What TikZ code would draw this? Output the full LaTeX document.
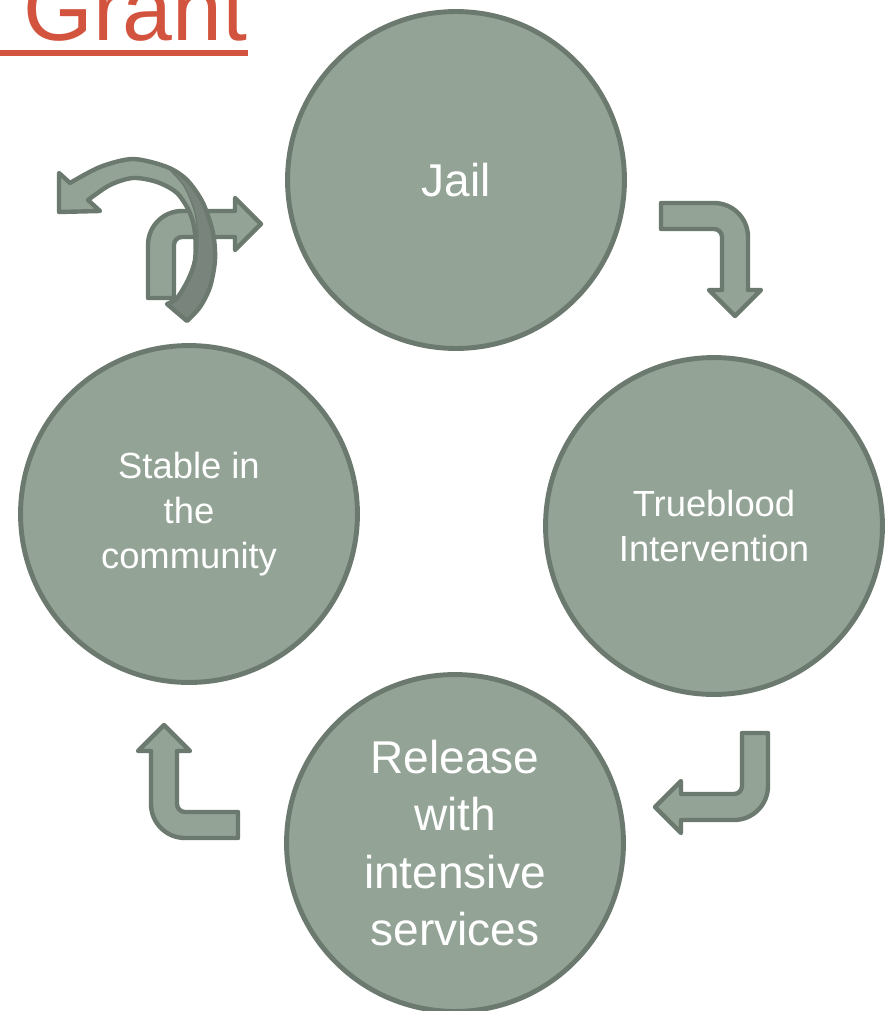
\documentclass[tikz,border=0pt]{standalone}
\usepackage{fontspec}
\setmainfont{Liberation Sans}

\definecolor{sage}{RGB}{147,163,150}
\definecolor{sageline}{RGB}{107,121,111}
\definecolor{sagedark}{RGB}{121,133,124}
\definecolor{grantred}{RGB}{211,84,62}

\tikzset{
	stage/.style={circle,draw=sageline,fill=sage,line width=2.8pt,minimum size=6.74cm,inner sep=0pt,text=white,align=center},
	blockarrow/.style={draw=sageline,fill=sage,line width=2.5pt,line join=round},
	bent arrow/.pic={
		\path[blockarrow] (0,-13) -- (53,-13) arc[start angle=-90,end angle=0,radius=34]
			-- (87,74) -- (100,74) -- (74,100) -- (48,74) -- (61,74)
			-- (61,21) arc[start angle=0,end angle=-90,radius=8] -- (0,13) -- cycle;
	}
}

\begin{document}
\begin{tikzpicture}[x=0.02cm,y=-0.02cm]
	\clip (0,0) rectangle (886,1011);
	
	% title
	\node[anchor=base west,inner sep=0pt,text=grantred,font=\fontsize{51}{60}\selectfont] (title) at (23,40) {Grant};
	\draw[grantred,line width=3.4pt] (0,53) -- (248,53);
	
	% the four stages
	\node[stage,font=\fontsize{26.2}{32.7}\selectfont] (jail) at (456,180) {Jail};
	\node[stage,font=\fontsize{20.7}{25.6}\selectfont] (trueblood) at (714,526) {Trueblood\\Intervention};
	\node[stage,font=\fontsize{26.2}{32.7}\selectfont] (release) at (455,843) {Release\\with\\intensive\\services};
	\node[stage,font=\fontsize{20.7}{25.6}\selectfont] (stable) at (189,514) {Stable in\\the\\community};
	
	% bent arrows between the stages
	\pic at (661,216) {bent arrow};
	\pic[rotate=-90] at (755,733) {bent arrow};
	\pic[rotate=180] at (238,825) {bent arrow};
	\pic[rotate=90] at (161,298) {bent arrow};
	
	% curved arrow back out
	\path[fill=sage,save path=\bandpath]
		plot[smooth] coordinates {(187,321) (200,307) (210,287) (215,260) (213,233) (203,203) (187,180) (167,167) (133,159) (100,167) (70,183)}
		-- (59,173) -- (59,212) -- (100,211) -- (88,200)
		-- plot[smooth] coordinates {(88,200) (110,185) (133,178) (157,182) (177,193) (190,213) (195,233) (195,260) (188,280) (177,298) (167,304)}
		-- cycle;
	\path[fill=sagedark]
		plot[smooth] coordinates {(187,321) (200,307) (210,287) (215,260) (213,233) (203,203) (187,180) (168,168)}
		-- plot[smooth] coordinates {(168,168) (184,186) (195,213) (198,243) (194,265)}
		-- plot[smooth] coordinates {(194,265) (188,280) (177,298) (167,304)}
		-- cycle;
	\draw[sageline,line width=0.8pt] plot[smooth] coordinates {(168,168) (184,186) (195,213) (198,243) (194,265)};
	\path[draw=sageline,line width=2.5pt,line join=round,use path=\bandpath];
\end{tikzpicture}
\end{document}
